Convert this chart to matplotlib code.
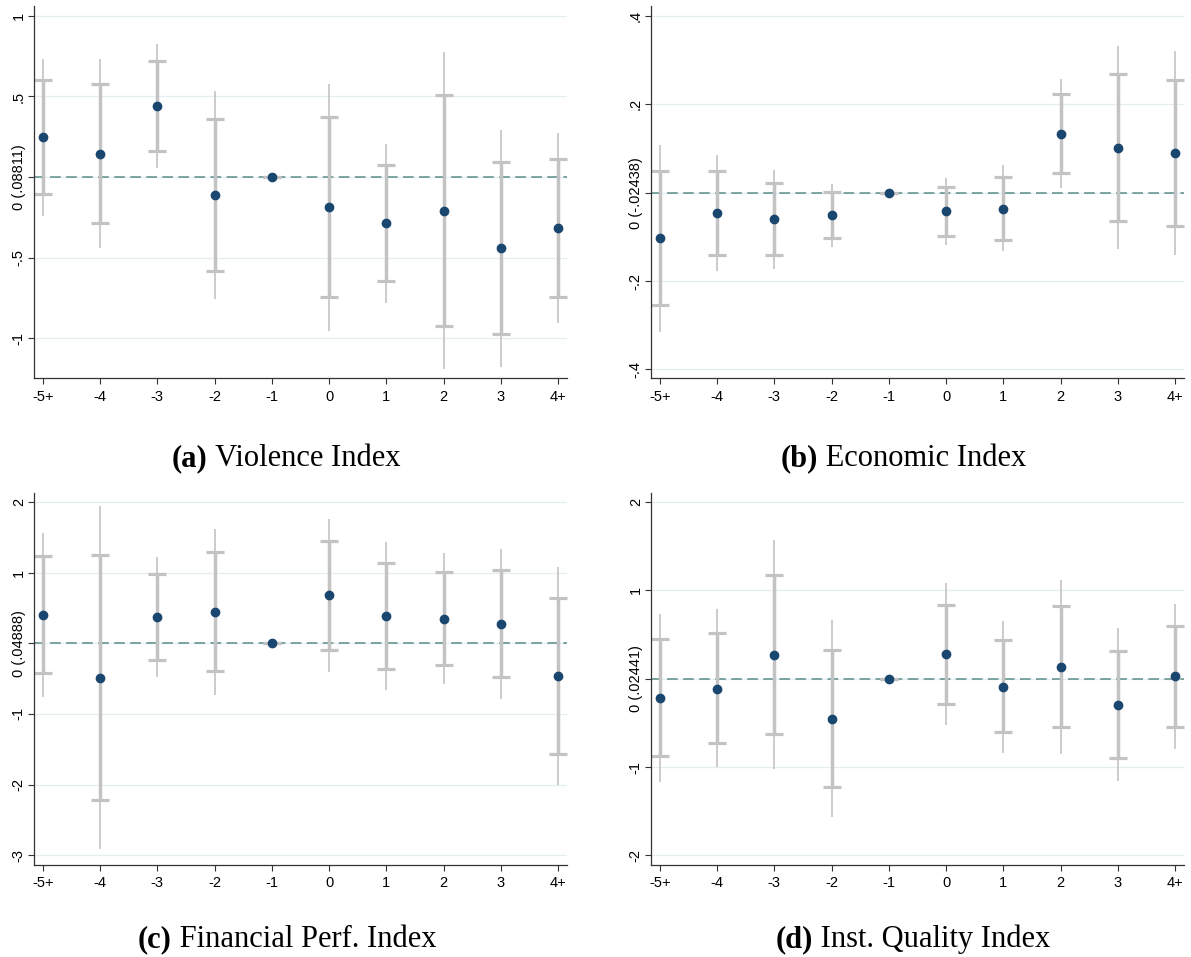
import matplotlib
matplotlib.use("Agg")
import matplotlib.pyplot as plt

# ---------------- data ----------------
periods = ["-5+", "-4", "-3", "-2", "-1", "0", "1", "2", "3", "4+"]

# (a) Violence Index
viol_coef = [0.248, 0.145, 0.439, -0.112, 0.0, -0.188, -0.288, -0.209, -0.443, -0.315]
viol_in_lo = [-0.107, -0.284, 0.161, -0.584, 0.0, -0.745, -0.648, -0.928, -0.974, -0.743]
viol_in_hi = [0.602, 0.576, 0.723, 0.362, 0.0, 0.371, 0.073, 0.511, 0.095, 0.114]
viol_out_lo = [-0.240, -0.443, 0.054, -0.758, 0.0, -0.955, -0.781, -1.195, -1.178, -0.905]
viol_out_hi = [0.733, 0.731, 0.824, 0.534, 0.0, 0.576, 0.203, 0.776, 0.294, 0.271]
viol_ticks = [1, 0.5, 0, -0.5, -1]
viol_ticklabels = ["1", ".5", "0 (.08811)", "-.5", "-1"]

# (b) Economic Index
econ_coef = [-0.103, -0.046, -0.060, -0.051, 0.0, -0.042, -0.036, 0.134, 0.101, 0.090]
econ_in_lo = [-0.254, -0.140, -0.140, -0.103, 0.0, -0.097, -0.106, 0.045, -0.063, -0.075]
econ_in_hi = [0.049, 0.049, 0.021, 0.001, 0.0, 0.014, 0.035, 0.223, 0.268, 0.256]
econ_out_lo = [-0.315, -0.177, -0.172, -0.122, 0.0, -0.118, -0.132, 0.011, -0.128, -0.140]
econ_out_hi = [0.108, 0.085, 0.051, 0.019, 0.0, 0.034, 0.062, 0.257, 0.331, 0.320]
econ_ticks = [0.4, 0.2, 0, -0.2, -0.4]
econ_ticklabels = [".4", ".2", "0 (-.02438)", "-.2", "-.4"]

# (c) Financial Perf. Index
fin_coef = [0.401, -0.486, 0.373, 0.443, 0.0, 0.679, 0.387, 0.349, 0.278, -0.462]
fin_in_lo = [-0.420, -2.212, -0.231, -0.387, 0.0, -0.094, -0.358, -0.307, -0.476, -1.561]
fin_in_hi = [1.231, 1.250, 0.981, 1.288, 0.0, 1.453, 1.142, 1.014, 1.038, 0.642]
fin_out_lo = [-0.764, -2.910, -0.481, -0.726, 0.0, -0.410, -0.665, -0.575, -0.783, -2.005]
fin_out_hi = [1.566, 1.948, 1.222, 1.613, 0.0, 1.759, 1.439, 1.278, 1.335, 1.080]
fin_ticks = [2, 1, 0, -1, -2, -3]
fin_ticklabels = ["2", "1", "0 (.04888)", "-1", "-2", "-3"]

# (d) Inst. Quality Index
inst_coef = [-0.219, -0.113, 0.272, -0.453, 0.0, 0.275, -0.091, 0.136, -0.298, 0.026]
inst_in_lo = [-0.875, -0.732, -0.630, -1.226, 0.0, -0.283, -0.608, -0.547, -0.894, -0.547]
inst_in_hi = [0.445, 0.513, 1.174, 0.328, 0.0, 0.838, 0.434, 0.823, 0.309, 0.600]
inst_out_lo = [-1.166, -1.004, -1.019, -1.570, 0.0, -0.525, -0.838, -0.849, -1.162, -0.792]
inst_out_hi = [0.728, 0.785, 1.566, 0.664, 0.0, 1.079, 0.657, 1.121, 0.574, 0.845]
inst_ticks = [2, 1, 0, -1, -2]
inst_ticklabels = ["2", "1", "0 (.02441)", "-1", "-2"]

captions = [("(a)", "Violence Index"), ("(b)", "Economic Index"),
            ("(c)", "Financial Perf. Index"), ("(d)", "Inst. Quality Index")]

# ---------------- style ----------------
W, H = 1191, 957
DPI = 100
POINT_COLOR = "#1a476f"
CI_COLOR = "#c3c3c3"
ZERO_COLOR = "#5b8e8a"
GRID_COLOR = "#e4eef0"
SANS = ["Liberation Sans", "DejaVu Sans"]
SERIF = ["Liberation Serif", "DejaVu Serif"]

fig = plt.figure(figsize=(W / DPI, H / DPI), dpi=DPI)

def px_axes(left, top, right, bottom):
    return fig.add_axes([left / W, 1 - bottom / H, (right - left) / W, (bottom - top) / H])

panels = [
    dict(box=(33.7, 6, 567.3, 378.3), ylim=(-1.25, 1.062), coef=viol_coef,
         ilo=viol_in_lo, ihi=viol_in_hi, olo=viol_out_lo, ohi=viol_out_hi,
         ticks=viol_ticks, labels=viol_ticklabels),
    dict(box=(650.7, 6, 1184.3, 378.3), ylim=(-0.420, 0.4226), coef=econ_coef,
         ilo=econ_in_lo, ihi=econ_in_hi, olo=econ_out_lo, ohi=econ_out_hi,
         ticks=econ_ticks, labels=econ_ticklabels),
    dict(box=(33.7, 492.7, 567.3, 865), ylim=(-3.137, 2.131), coef=fin_coef,
         ilo=fin_in_lo, ihi=fin_in_hi, olo=fin_out_lo, ohi=fin_out_hi,
         ticks=fin_ticks, labels=fin_ticklabels),
    dict(box=(650.7, 492.7, 1184.3, 865), ylim=(-2.109, 2.106), coef=inst_coef,
         ilo=inst_in_lo, ihi=inst_in_hi, olo=inst_out_lo, ohi=inst_out_hi,
         ticks=inst_ticks, labels=inst_ticklabels),
]

x = list(range(len(periods)))
for p in panels:
    ax = px_axes(*p["box"])
    ax.set_xlim(-0.16, 9.16)
    ax.set_ylim(*p["ylim"])
    for t in p["ticks"]:
        ax.axhline(t, color=GRID_COLOR, lw=0.9, zorder=0)
    ax.axhline(0, color=ZERO_COLOR, lw=1.1, ls=(0, (7, 3.5)), zorder=1)
    ax.vlines(x, p["olo"], p["ohi"], color=CI_COLOR, lw=1.2, zorder=2)
    ax.vlines(x, p["ilo"], p["ihi"], color=CI_COLOR, lw=2.5, zorder=2)
    ax.plot(x, p["ilo"], ls="none", marker="_", ms=12.5, mew=2.3, color=CI_COLOR, zorder=2)
    ax.plot(x, p["ihi"], ls="none", marker="_", ms=12.5, mew=2.3, color=CI_COLOR, zorder=2)
    ax.plot(x, p["coef"], ls="none", marker="o", ms=6, color=POINT_COLOR,
            mec=POINT_COLOR, zorder=3)
    ax.set_xticks(x)
    ax.set_xticklabels(periods, family=SANS, fontsize=10.5)
    ax.set_yticks(p["ticks"])
    ax.set_yticklabels(p["labels"], family=SANS, fontsize=10.5, rotation=90, va="center")
    ax.tick_params(axis="both", direction="out", length=4.2, width=0.8, color="#333333")
    ax.tick_params(axis="y", pad=1.5)
    ax.tick_params(axis="x", pad=4)
    for s in ["top", "right"]:
        ax.spines[s].set_visible(False)
    for s in ["left", "bottom"]:
        ax.spines[s].set_color("#333333")
        ax.spines[s].set_linewidth(0.9)

# captions: bold label + regular text, centred as a unit
cap_pos = [(286, 466), (903, 466), (287, 947), (913, 947)]
fig.canvas.draw()
renderer = fig.canvas.get_renderer()
for (lab, txt), (cx, cy) in zip(captions, cap_pos):
    t1 = fig.text(0, 1 - cy / H, lab, family=SERIF, fontsize=22, fontweight="bold",
                  va="baseline", ha="left")
    t2 = fig.text(0, 1 - cy / H, " " + txt, family=SERIF, fontsize=22,
                  va="baseline", ha="left")
    w1 = t1.get_window_extent(renderer).width
    w2 = t2.get_window_extent(renderer).width
    x0 = cx - (w1 + w2) / 2
    t1.set_x(x0 / W)
    t2.set_x((x0 + w1) / W)

fig.savefig("out.png", dpi=DPI)
